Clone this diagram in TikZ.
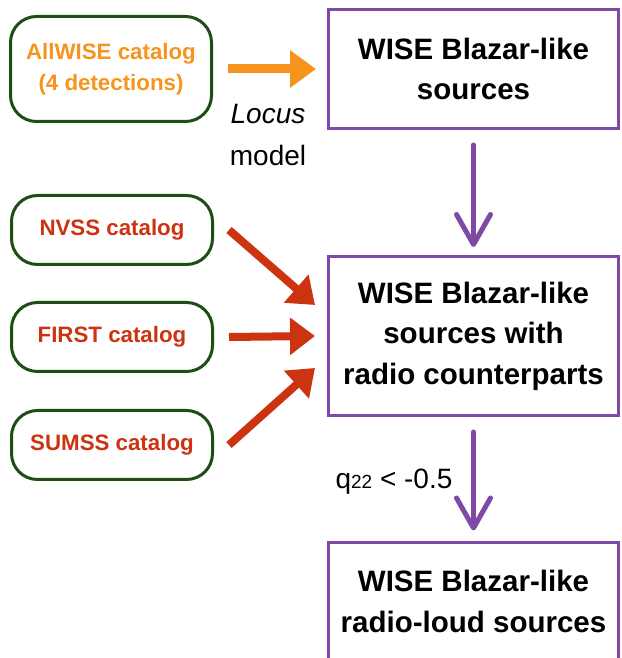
\documentclass[tikz,border=0pt]{standalone}
\usepackage{fontspec}
\setmainfont{Liberation Sans}
\usepackage{tikz}
\usetikzlibrary{calc,arrows.meta}
\definecolor{wiseorange}{HTML}{F7941D}
\definecolor{radiored}{HTML}{CC3311}
\definecolor{catgreen}{HTML}{1F4D16}
\definecolor{stepviolet}{HTML}{7E4AA5}
\tikzset{
  catbox/.style={draw=catgreen, line width=3pt, rounded corners=26pt, minimum width=201pt, align=center, font=\fontsize{22.3}{31}\selectfont\bfseries},
  resbox/.style={draw=stepviolet, line width=3pt, minimum width=290pt, align=center, text=black, font=\fontsize{29.5}{40.5}\selectfont\bfseries},
  oarr/.style={draw=wiseorange, line width=9pt, -{Triangle[length=26pt,width=36pt]}},
  rarr/.style={draw=radiored, line width=8pt, -{Triangle[length=25pt,width=36pt]}},
  parr/.style={draw=stepviolet, line width=5pt, line cap=round, -{Straight Barb[length=30pt,width=34pt,round]}},
  note/.style={text=black, font=\fontsize{28}{42}\selectfont},
}

\begin{document}
\begin{tikzpicture}[x=1pt,y=1pt]
  \useasboundingbox (0,0) rectangle (621,658);
  \clip (0,0) rectangle (621,658);

  % input catalogs
  \node[catbox, minimum height=105pt, text=wiseorange] (allwise) at (111,589) {AllWISE catalog\\(4 detections)};
  \node[catbox, minimum height=69pt, text=radiored] (nvss) at (112,428) {NVSS catalog};
  \node[catbox, minimum height=69pt, text=radiored] (first) at (112,321) {FIRST catalog};
  \node[catbox, minimum height=69pt, text=radiored] (sumss) at (112,213) {SUMSS catalog};

  % selection steps
  \node[resbox, minimum height=119pt] (wise) at (473.5,589) {WISE Blazar-like\\sources};
  \node[resbox, minimum height=159pt] (radio) at (473.5,322) {WISE Blazar-like\\sources with\\radio counterparts};
  \node[resbox, minimum height=117pt] (loud) at (473.5,56.5) {WISE Blazar-like\\radio-loud sources};

  \draw[oarr] ([xshift=15pt]allwise.east) -- ([xshift=-11pt]wise.west);
  \node[note, align=center] (locus) at (268,523) {\itshape Locus\\model};

  \draw[rarr] ([xshift=15pt]nvss.east) -- ($(radio.west)+(-12,31)$);
  \draw[rarr] ([xshift=15pt]first.east) -- ($(radio.west)+(-12,0)$);
  \draw[rarr] ([xshift=15pt]sumss.east) -- ($(radio.west)+(-12,-32)$);

  \draw[parr] ([yshift=-15pt]wise.south) -- ([yshift=8pt]radio.north);
  \draw[parr] ([yshift=-15pt]radio.south) -- ([yshift=11pt]loud.north);
  \node[note] (cut) at (394,176) {q{\fontsize{19}{20}\selectfont 22} < -0.5};
\end{tikzpicture}
\end{document}
